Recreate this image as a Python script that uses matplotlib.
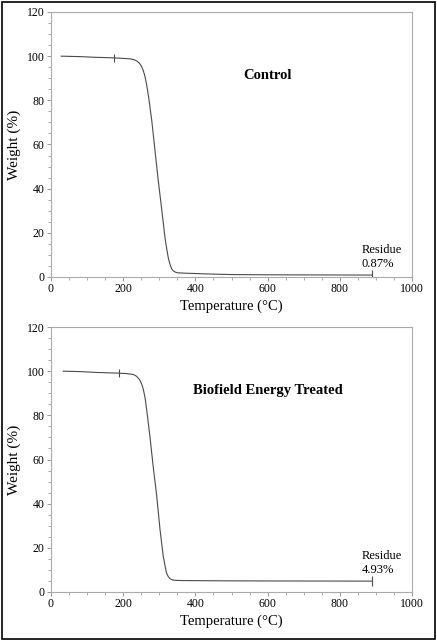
import matplotlib.pyplot as plt
from matplotlib.ticker import MultipleLocator
from matplotlib.patches import Rectangle

plt.rcParams['font.family'] = ['Liberation Serif', 'DejaVu Serif']

# Control TGA curve
ctrl_temp = [28, 80, 120, 163, 200, 219, 230, 237, 245, 251, 256, 260, 265, 270, 279, 288, 297,
             307, 316, 321, 325, 330, 334, 338, 343, 350, 376, 450, 505, 600, 700, 800, 888]
ctrl_wt = [100, 99.8, 99.5, 99.3, 99.0, 98.8, 98.4, 97.9, 96.8, 95.3, 93.3, 91.0, 87.0, 82.0, 71.0,
           57.4, 43.8, 30.2, 17.5, 12.3, 8.6, 5.5, 3.8, 2.9, 2.3, 1.9, 1.7, 1.3, 1.1, 1.0, 0.95, 0.9, 0.87]

# Biofield treated TGA curve
trt_temp = [34, 80, 130, 189, 210, 228, 237, 245, 251, 256, 261, 265, 274, 283, 293, 302, 311,
            316, 320, 325, 330, 336, 343, 360, 385, 440, 500, 600, 700, 800, 888]
trt_wt = [100, 99.8, 99.4, 99.1, 98.9, 98.5, 97.7, 96.2, 94.3, 91.6, 87.5, 82.6, 70.5, 56.9, 43.3,
          28.2, 16.1, 11.8, 8.6, 6.9, 6.0, 5.5, 5.3, 5.2, 5.15, 5.1, 5.05, 5.0, 4.97, 4.95, 4.93]

panels = [
    ('Control', ctrl_temp, ctrl_wt, 175, 'Residue\n0.87%'),
    ('Biofield Energy Treated', trt_temp, trt_wt, 189, 'Residue\n4.93%'),
]

fig = plt.figure(figsize=(4.37, 6.41), dpi=100)
W, H = 437, 641
boxes = [(51, 12, 412, 277), (51, 327, 412, 592)]

for (title, t, w, mark_t, res), (x0, y0, x1, y1) in zip(panels, boxes):
    ax = fig.add_axes([x0 / W, 1 - y1 / H, (x1 - x0) / W, (y1 - y0) / H])
    ax.plot(t, w, color='#4a4a4a', lw=0.8)
    # onset and end markers
    mark_w = w[min(range(len(t)), key=lambda i: abs(t[i] - mark_t))]
    ax.plot([mark_t], [mark_w], marker='|', ms=6, mew=0.8, color='#4a4a4a')
    ax.plot([t[-1]], [w[-1]], marker='|', ms=7, mew=0.8, color='#4a4a4a')

    ax.set_xlim(0, 1000)
    ax.set_ylim(0, 120)
    ax.xaxis.set_major_locator(MultipleLocator(200))
    ax.xaxis.set_minor_locator(MultipleLocator(50))
    ax.yaxis.set_major_locator(MultipleLocator(20))
    ax.yaxis.set_minor_locator(MultipleLocator(5))
    ax.tick_params(which='major', direction='out', length=3, width=0.6,
                   color='#888888', labelsize=8.5, pad=1.5)
    ax.tick_params(which='minor', direction='out', length=2, width=0.5, color='#888888')
    for sp in ax.spines.values():
        sp.set_color('#aaaaaa')
        sp.set_linewidth(0.8)

    ax.set_xlabel('Temperature (°C)', fontsize=10.5, labelpad=3)
    ax.set_ylabel('Weight (%)', fontsize=11, labelpad=4)
    ax.text(0.6, 0.76, title, transform=ax.transAxes, ha='center', va='center',
            fontsize=10.5, fontweight='bold')
    ax.text(860, w[-1] + 2.2, res, ha='left', va='bottom', fontsize=9,
            linespacing=1.25)

fig.patches.append(Rectangle((2 / W, 2 / H), 1 - 4 / W, 1 - 4 / H,
                             transform=fig.transFigure, fill=False,
                             edgecolor='black', lw=1.2))

fig.savefig('out.png', dpi=100)
